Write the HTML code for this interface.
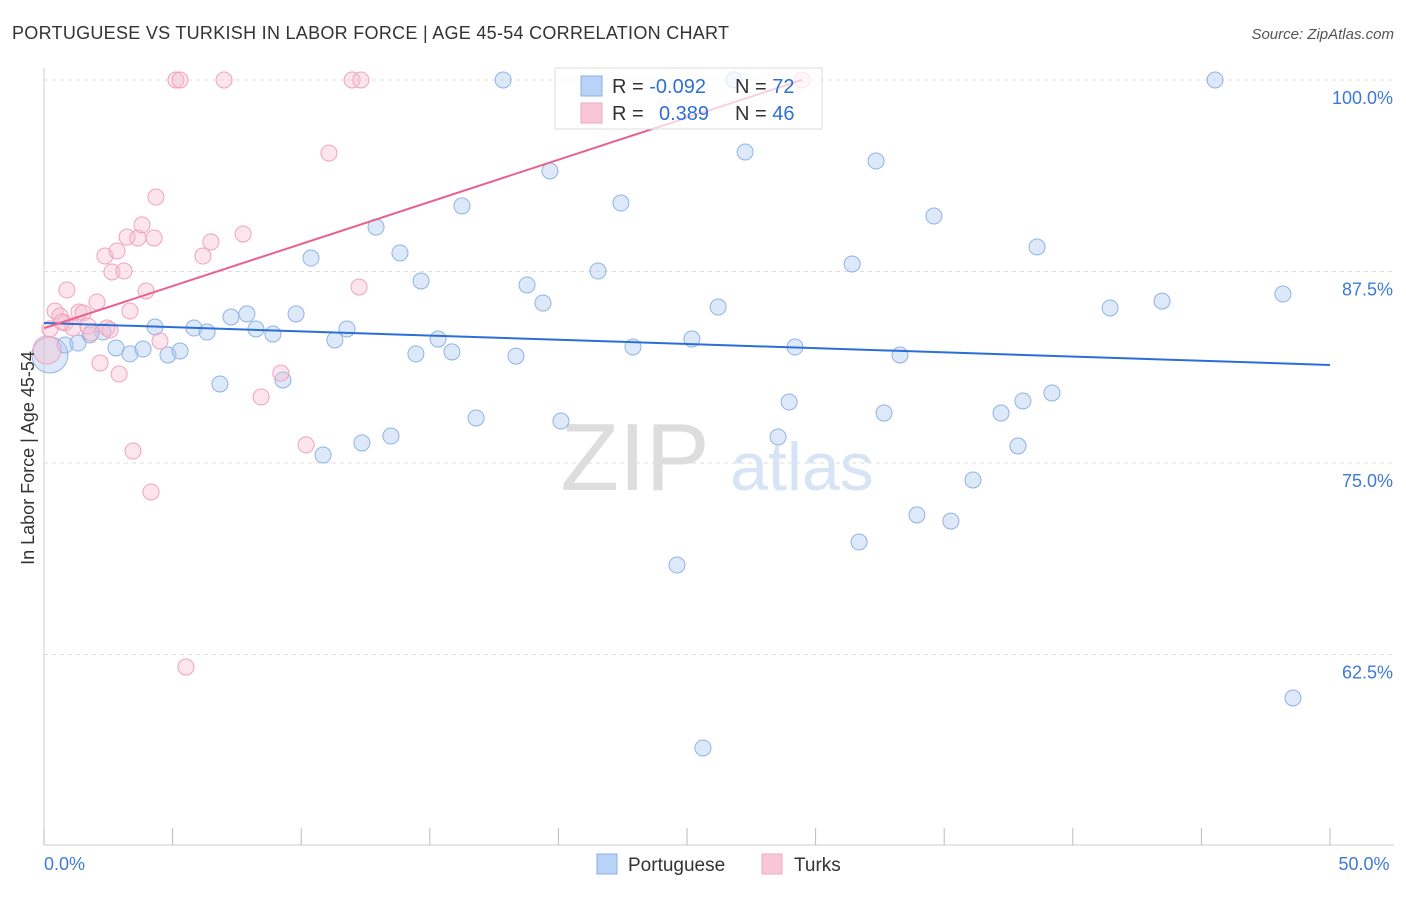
<!DOCTYPE html>
<html><head><meta charset="utf-8"><style>
body{margin:0;background:#fff;font-family:"Liberation Sans",sans-serif;}
svg text{font-family:"Liberation Sans",sans-serif;}
</style></head><body>
<svg id="chart" width="1406" height="892">
<text x="12" y="39" font-size="18" fill="#333" textLength="717">PORTUGUESE VS TURKISH IN LABOR FORCE | AGE 45-54 CORRELATION CHART</text>
<text x="1394" y="39" font-size="15" fill="#555" font-style="italic" text-anchor="end">Source: ZipAtlas.com</text>
<g id="grid"></g>
<g><text x="635" y="490" font-size="96" fill="#ddd" text-anchor="middle" font-family="Liberation Serif">ZIP</text><text x="802" y="490" font-size="68" fill="#d6e4f5" text-anchor="middle">atlas</text></g>
<g id="pts"></g>
<g id="lines"></g>
<text x="34" y="458" font-size="18" fill="#333" text-anchor="middle" transform="rotate(-90 34 458)">In Labor Force | Age 45-54</text>
<g>
<rect x="555" y="68" width="267" height="61" fill="rgba(255,255,255,0.7)" stroke="#ddd"/>
<rect x="581" y="76" width="21" height="20" fill="#b8d3f5" stroke="#8ab0e6"/>
<rect x="581" y="103" width="21" height="20" fill="#f8c6d6" stroke="#f0a8c0"/>
<text x="612" y="93" font-size="20" fill="#333">R = <tspan fill="#2e6fd6">-0.092</tspan></text>
<text x="735" y="93" font-size="20" fill="#333">N = <tspan fill="#2e6fd6">72</tspan></text>
<text x="612" y="120" font-size="20" fill="#333">R = <tspan fill="#2e6fd6" x="659">0.389</tspan></text>
<text x="735" y="120" font-size="20" fill="#333">N = <tspan fill="#2e6fd6">46</tspan></text>
</g>
<g>
<rect x="597" y="854" width="20" height="20" fill="#b8d3f5" stroke="#8ab0e6"/>
<text x="628" y="871" font-size="19" fill="#333">Portuguese</text>
<rect x="762" y="854" width="20" height="20" fill="#f8c6d6" stroke="#f0a8c0"/>
<text x="794" y="871" font-size="19" fill="#333">Turks</text>
</g>
</svg>
<script>
const xTickLabels=["0.0%","50.0%"];
const yTicks=[62.5,75,87.5,100];
const yTickLabels=["62.5%","75.0%","87.5%","100.0%"];
const blueX=[0.23,0.82,1.32,1.79,2.29,2.80,3.34,3.85,4.32,4.82,5.29,5.83,6.34,6.84,7.27,7.89,8.24,8.90,9.29,9.80,10.38,10.85,11.31,11.78,12.36,12.91,13.49,13.84,14.46,14.66,15.32,15.86,16.25,16.80,17.85,18.35,18.78,19.40,19.67,20.10,21.54,22.43,22.90,24.61,25.19,25.62,26.21,26.83,27.26,28.54,28.97,29.20,31.42,31.69,32.35,32.66,33.28,33.94,34.60,35.26,36.12,37.21,37.87,38.06,38.61,39.19,41.45,43.47,45.53,48.17,48.56];
const blueY=[82.05,82.70,82.83,83.36,83.55,82.51,82.12,82.44,83.88,82.05,82.31,83.81,83.55,80.16,84.53,84.73,83.75,83.42,80.42,84.73,88.38,75.52,83.03,83.75,76.31,90.40,76.76,88.71,82.12,86.88,83.09,82.25,91.78,77.94,100,81.98,86.62,85.44,94.06,77.74,87.53,91.97,82.57,68.34,83.09,56.40,85.18,100,95.30,76.70,78.98,82.57,87.99,69.84,94.71,78.26,82.05,71.61,91.12,71.21,73.89,78.26,76.11,79.05,89.10,79.57,85.12,85.57,100,86.03,59.66];
const pinkX=[0.12,0.43,0.62,0.82,0.89,1.13,1.36,1.52,1.71,1.83,2.06,2.18,2.37,2.64,2.84,2.92,3.11,3.23,3.34,3.46,3.65,3.81,3.97,4.16,4.28,4.35,4.51,5.13,5.29,5.52,6.18,6.49,7.00,7.74,8.44,9.21,10.19,11.08,11.98,12.25,12.32,29.47,2.45,0.23,0.70,2.57];
const pinkY=[82.38,84.92,84.60,84.14,86.29,83.81,84.86,84.79,83.94,83.49,85.51,81.53,88.51,87.47,88.84,80.81,87.53,89.75,84.92,75.78,89.69,90.54,86.23,73.11,89.69,92.36,82.96,100,100,61.68,88.51,89.43,100,89.95,79.31,80.87,76.18,95.23,100,86.49,100,100,83.81,83.75,84.20,83.68];
const blueTrend=[[0,84.14],[50,81.4]];
const pinkTrend=[[0,83.8],[29.47,100]];
const X=v=>44+v*25.72, Y=v=>80+(100-v)*15.32;
const NS="http://www.w3.org/2000/svg";
function mk(tag,attrs,parent){const e=document.createElementNS(NS,tag);for(const k in attrs)e.setAttribute(k,attrs[k]);parent.appendChild(e);return e;}
const grid=document.getElementById('grid');
const ax=mk('line',{x1:44,y1:68,x2:44,y2:845,stroke:'#ccc'},grid);


const bx=mk('line',{x1:44,y1:845,x2:1394,y2:845,stroke:'#ccc'},grid);


yTicks.forEach((t,i)=>{
 const l=mk('line',{x1:44,y1:Y(t),x2:1394,y2:Y(t),stroke:'#ddd','stroke-dasharray':'4,4'},grid);
 
 
 const tx=mk('text',{x:1393,y:Y(t)+24,'font-size':18,fill:'#3d7ad8','text-anchor':'end'},grid);
 tx.textContent=yTickLabels[i];
 
 
});
for(let i=0;i<=10;i++){const x=X(i*5);
 const t=mk('line',{x1:x,y1:828,x2:x,y2:845,stroke:'#bbb'},grid);
 
 }
[[0,44,'start'],[50,1364,'middle']].forEach((d,i)=>{
 const tx=mk('text',{x:d[1],y:870,'font-size':18,fill:'#3d7ad8','text-anchor':d[2]},grid);
 tx.textContent=xTickLabels[i];
 
 
});
const pts=document.getElementById('pts');
blueX.forEach((v,i)=>{
 const c=mk('circle',{cx:X(v),cy:Y(blueY[i]),r:i==0?18:8,fill:'rgba(170,200,240,0.4)',stroke:'#8fb3e6','stroke-width':1},pts);
 
 
});
pinkX.forEach((v,i)=>{
 const c=mk('circle',{cx:X(v),cy:Y(pinkY[i]),r:i==0?14:8,fill:'rgba(248,190,210,0.4)',stroke:'#f0a2bd','stroke-width':1},pts);
 
 
});
const lines=document.getElementById('lines');
const bl=mk('line',{x1:X(blueTrend[0][0]),y1:Y(blueTrend[0][1]),x2:X(blueTrend[1][0]),y2:Y(blueTrend[1][1]),stroke:'#2b6fd6','stroke-width':2},lines);


const pl=mk('line',{x1:X(pinkTrend[0][0]),y1:Y(pinkTrend[0][1]),x2:X(pinkTrend[1][0]),y2:Y(pinkTrend[1][1]),stroke:'#e8608e','stroke-width':2},lines);


</script>
</body></html>
